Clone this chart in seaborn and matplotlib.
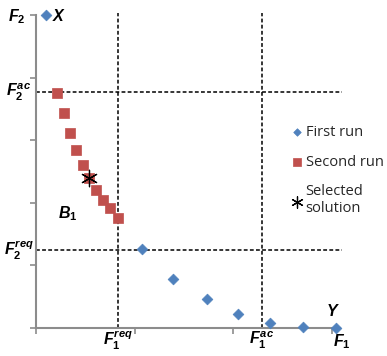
import matplotlib
matplotlib.use("Agg")
import matplotlib.pyplot as plt
import seaborn as sns
import pandas as pd

# Data
first_f1 = [0.10, 1.07, 1.39, 1.73, 2.05, 2.37, 2.71, 3.04]
first_f2 = [5.00, 1.26, 0.79, 0.46, 0.22, 0.08, 0.02, 0.00]
second_f1 = [0.21, 0.28, 0.34, 0.41, 0.48, 0.54, 0.61, 0.68, 0.75, 0.83]
second_f2 = [3.76, 3.43, 3.11, 2.84, 2.60, 2.39, 2.21, 2.05, 1.91, 1.76]
selected_f1 = [0.54]
selected_f2 = [2.39]
f1_req, f1_ac = 0.83, 2.29
f2_req, f2_ac = 1.25, 3.77
x_ticks = [0, 1, 2, 3]
y_ticks = [0, 1, 2, 3, 4, 5]

sns.set_style("white")
plt.rcParams['mathtext.fontset'] = 'custom'
plt.rcParams['mathtext.it'] = 'Liberation Sans:italic:bold'
plt.rcParams['mathtext.rm'] = 'Liberation Sans:bold'
plt.rcParams['mathtext.bf'] = 'Liberation Sans:bold'

fig = plt.figure(figsize=(3.87, 3.56), dpi=100)
ax = fig.add_axes([36/387, 1-328/356, (340-36)/387, (328-13)/356])

df1 = pd.DataFrame({"F1": first_f1, "F2": first_f2})
df2 = pd.DataFrame({"F1": second_f1, "F2": second_f2})
df3 = pd.DataFrame({"F1": selected_f1, "F2": selected_f2})

# dashed reference lines
ls = (0, (2.5, 1.5))
ax.plot([f1_req, f1_req], [0, 5.03], color="black", lw=1.1, ls=ls, zorder=1)
ax.plot([f1_ac, f1_ac], [0, 5.03], color="black", lw=1.1, ls=ls, zorder=1)
ax.plot([0, 3.1], [f2_ac, f2_ac], color="black", lw=1.1, ls=ls, zorder=1, clip_on=False)
ax.plot([0, 3.1], [f2_req, f2_req], color="black", lw=1.1, ls=ls, zorder=1, clip_on=False)

sns.scatterplot(data=df1, x="F1", y="F2", ax=ax, marker="D", s=30, color="#4F81BD",
                edgecolor="#4F81BD", linewidth=0.5, label="First run", clip_on=False, zorder=3)
sns.scatterplot(data=df2, x="F1", y="F2", ax=ax, marker="s", s=55, color="#C0504D",
                edgecolor="#C0504D", linewidth=0.5, label="Second run", clip_on=False, zorder=3)
sns.scatterplot(data=df3, x="F1", y="F2", ax=ax, marker=(6, 2, 0), s=140, color="black",
                linewidth=0.9, label="Selected\nsolution", clip_on=False, zorder=4)

ax.set_xlim(0, 3.08)
ax.set_ylim(0, 5.03)
ax.set_xticks(x_ticks)
ax.set_yticks(y_ticks)
ax.set_xticklabels([])
ax.set_yticklabels([])
ax.set_xlabel("")
ax.set_ylabel("")
ax.tick_params(axis="both", direction="out", length=4, width=1.2, color="#8c8c8c",
               bottom=True, left=True)
for s in ["top", "right"]:
    ax.spines[s].set_visible(False)
for s in ["left", "bottom"]:
    ax.spines[s].set_color("#8c8c8c")
    ax.spines[s].set_linewidth(1.5)
ax.spines["left"].set_bounds(0, 5.0)

leg = ax.legend(loc="upper left", bbox_to_anchor=(283/387, 1-118/356),
                bbox_transform=fig.transFigure, frameon=False,
                prop={"family": "Open Sans", "size": 10.5}, handletextpad=0.15,
                handlelength=0.9, labelspacing=1.0, borderpad=0, markerscale=0.7)
for t in leg.get_texts():
    t.set_linespacing(1.15)

# axis annotations
tk = dict(fontsize=11.5, color="black", transform=fig.transFigure)
fig.text(8/387, 1-17/356, r"$F_2$", ha="left", va="center", **tk)
fig.text(6/387, 1-92/356, r"$F_2^{ac}$", ha="left", va="center", **tk)
fig.text(4/387, 1-250/356, r"$F_2^{req}$", ha="left", va="center", **tk)
fig.text(118/387, 1-340/356, r"$F_1^{req}$", ha="center", va="center", **tk)
fig.text(262/387, 1-340/356, r"$F_1^{ac}$", ha="center", va="center", **tk)
fig.text(342/387, 1-342/356, r"$F_1$", ha="center", va="center", **tk)
fig.text(59/387, 1-16/356, r"$X$", ha="center", va="center", **tk)
fig.text(333/387, 1-311/356, r"$Y$", ha="center", va="center", **tk)
fig.text(68/387, 1-214/356, r"$B_1$", ha="center", va="center", **tk)

fig.savefig("out.png", dpi=100)
